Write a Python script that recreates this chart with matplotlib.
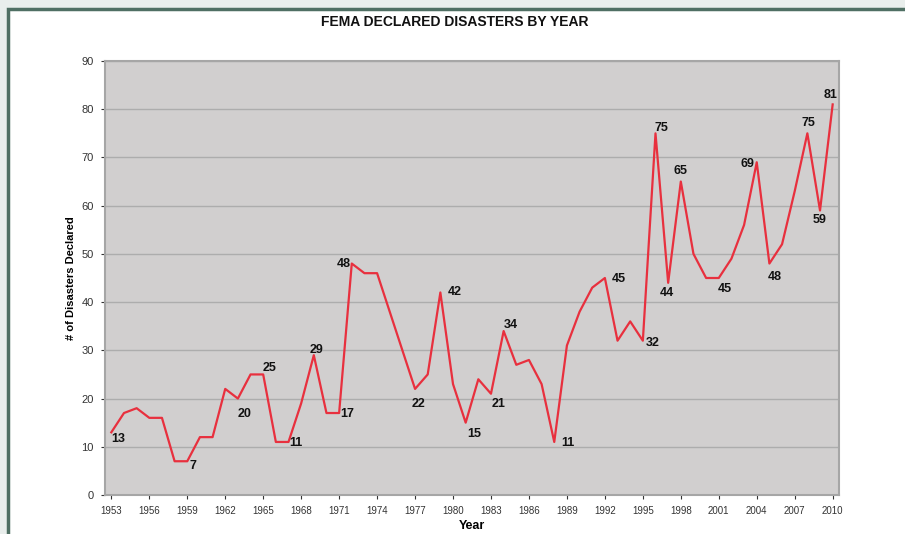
import matplotlib.pyplot as plt
from matplotlib.patches import Rectangle

plt.rcParams['font.family'] = ['Liberation Sans', 'DejaVu Sans']

# data
years = list(range(1953, 2011))
disasters = [13, 17, 18, 16, 16, 7, 7, 12, 12, 22,
             20, 25, 25, 11, 11, 19, 29, 17, 17, 48,
             46, 46, 38, 30, 22, 25, 42, 23, 15, 24,
             21, 34, 27, 28, 23, 11, 31, 38, 43, 45,
             32, 36, 32, 75, 44, 65, 50, 45, 45, 49,
             56, 69, 48, 52, 63, 75, 59, 81]

# which points get a value label, and the label offset from the point (points)
labelled = {1953: (5, -5), 1959: (4.3, -3.6), 1963: (5, -10.8), 1965: (4.3, 4.3),
            1967: (5.5, -0.7), 1969: (2.2, 3.6), 1971: (5.8, -0.7), 1972: (-5.8, 0),
            1977: (2.2, -10.8), 1979: (10, 0), 1981: (6.5, -7.9), 1983: (5.8, -7.2),
            1984: (5, 4.3), 1988: (10, -0.7), 1992: (10, -0.7), 1995: (7.2, -1.4),
            1996: (4.3, 3.6), 1997: (-0.7, -7.2), 1998: (0, 7.9), 2001: (4.3, -7.9),
            2004: (-6.5, -1.4), 2005: (3.6, -10), 2008: (0.7, 7.2), 2009: (0, -7.2),
            2010: (-1.4, 6.5)}

fig = plt.figure(figsize=(9.05, 5.34), dpi=100)
fig.patch.set_facecolor('white')

# page background / green frame
fig.patches.append(Rectangle((0, 0), 1, 1, transform=fig.transFigure,
                             facecolor='#e9eeec', edgecolor='none', zorder=-3))
fig.patches.append(Rectangle((8 / 905, -0.1), 1.1, 1.1 - 9 / 534, transform=fig.transFigure,
                             facecolor='white', edgecolor='#4f6f63', linewidth=2.5, zorder=-2))

ax = fig.add_axes([105 / 905, 1 - 495 / 534, 734 / 905, 434 / 534])
ax.set_facecolor('#d1cfcf')
ax.plot(years, disasters, color='#e8303e', linewidth=1.6, zorder=3)

for yr, (dx, dy) in labelled.items():
    v = disasters[years.index(yr)]
    ax.annotate(str(v), (yr, v), xytext=(dx, dy), textcoords='offset points',
                ha='center', va='center', fontsize=9, fontweight='bold', color='#111111')

ax.set_xlim(1952.5, 2010.5)
ax.set_ylim(0, 90)
ax.set_xticks(years[::3])
ax.set_yticks(range(0, 91, 10))
ax.tick_params(axis='x', labelsize=7, colors='#333333', length=3, pad=5)
ax.tick_params(axis='y', labelsize=8, colors='#333333', length=3, pad=5)
ax.grid(axis='y', color='#adadad', linewidth=1)
ax.set_axisbelow(True)
for s in ax.spines.values():
    s.set_color('#a6a6a6')
    s.set_linewidth(1.5)

ax.set_xlabel('Year', fontsize=9, fontweight='bold', labelpad=3)
ax.set_ylabel('# of Disasters Declared', fontsize=8, fontweight='bold', labelpad=4)
fig.text(0.503, 1 - 22 / 534, 'FEMA DECLARED DISASTERS BY YEAR', ha='center', va='center',
         fontsize=10, fontweight='bold', color='#111111')

fig.savefig('out.png', dpi=100)
